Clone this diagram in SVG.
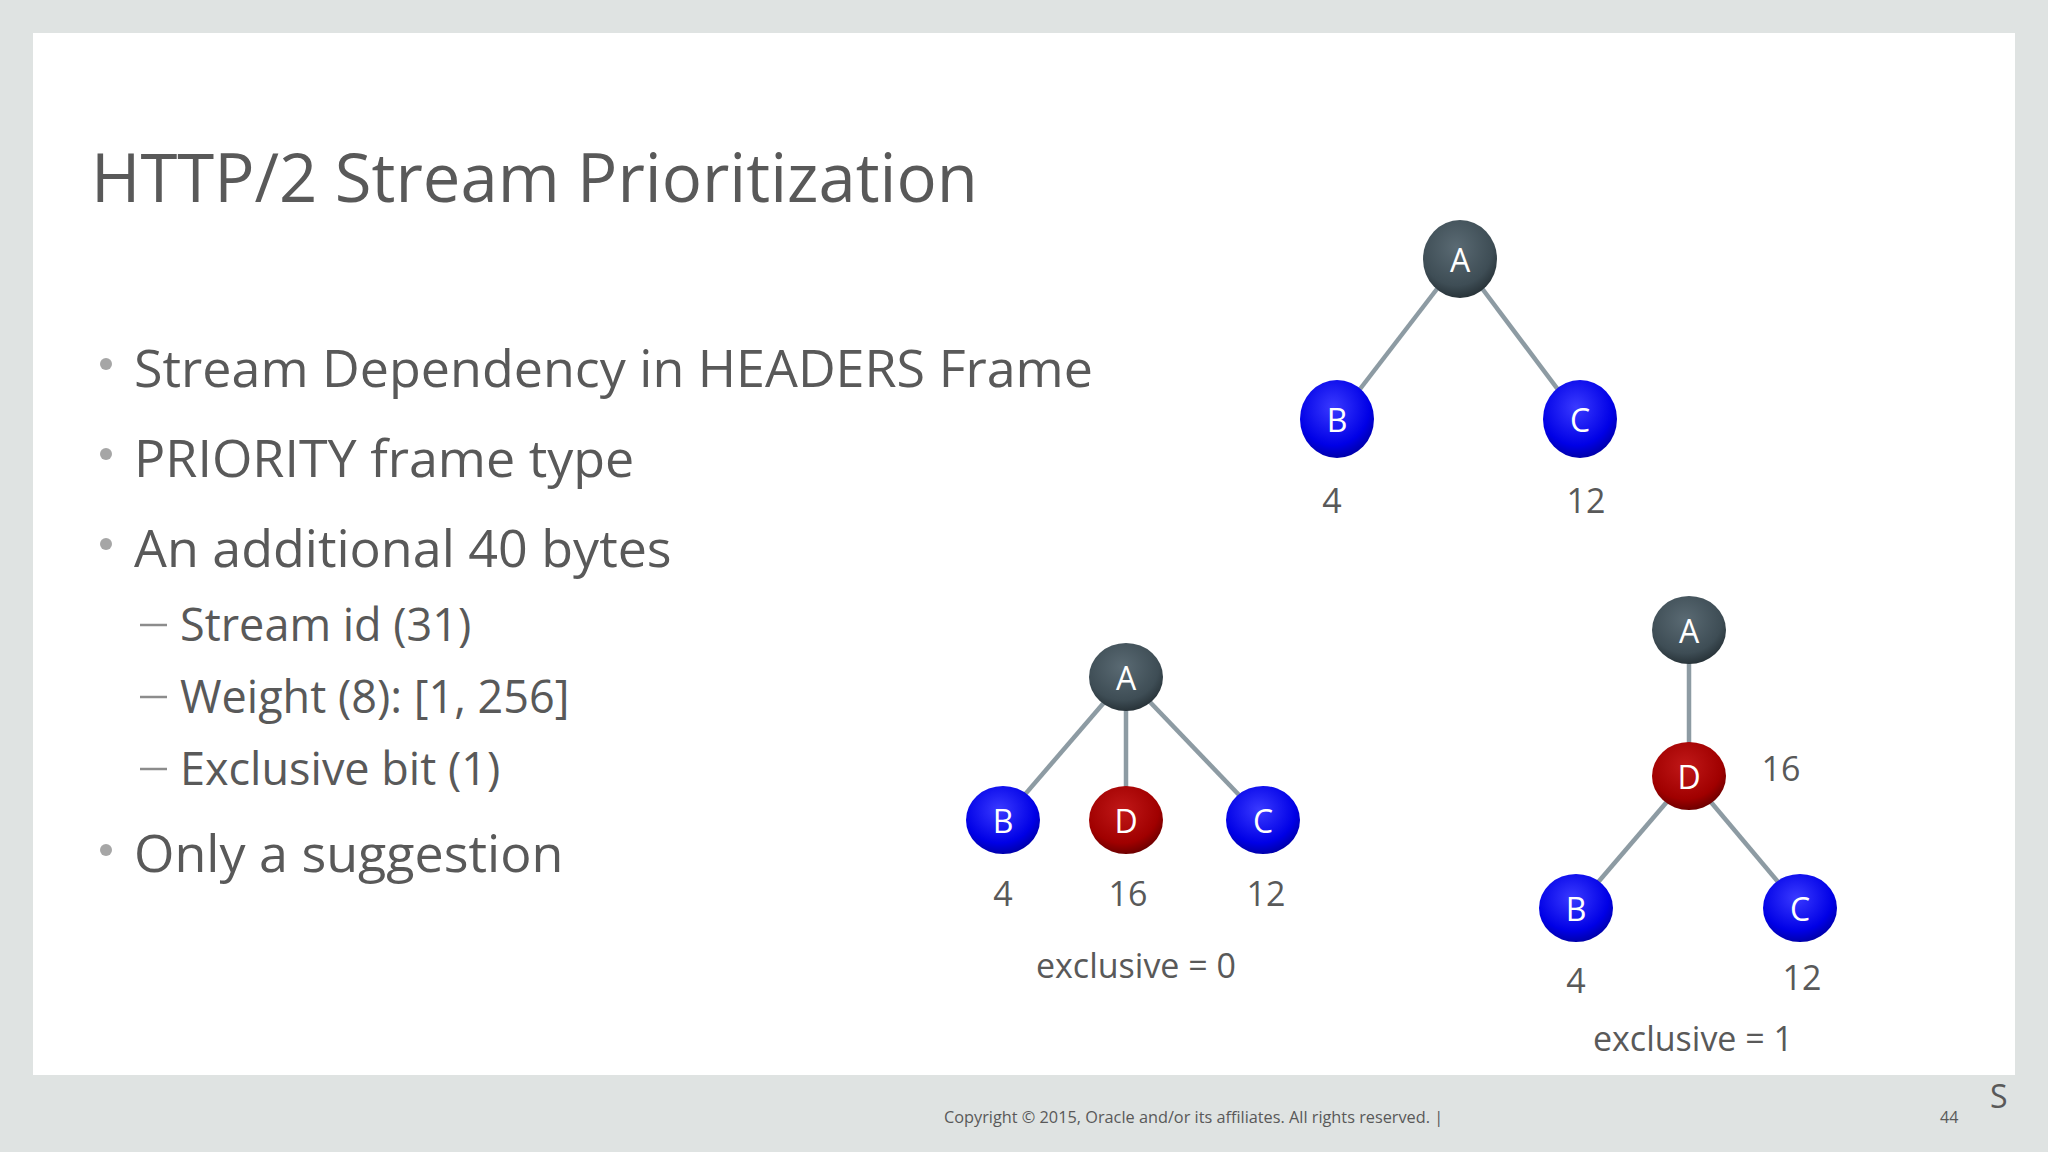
<svg xmlns="http://www.w3.org/2000/svg" width="2048" height="1152" viewBox="0 0 2048 1152">
<style>
text{font-family:"Open Sans","Noto Sans","Liberation Sans",sans-serif;fill:#595959}
.b{font-size:52px}.s{font-size:45px}.l{font-size:34px}
.n{font-size:32px;fill:#fff;text-anchor:middle;dominant-baseline:central}
.lbl{text-anchor:middle;dominant-baseline:central}
.e{stroke:#8d9ba3;stroke-width:4.5;fill:none}
</style>
<defs>
<radialGradient id="gb" cx="0.45" cy="0.35" r="0.7"><stop offset="0" stop-color="#3a3aff"/><stop offset="0.7" stop-color="#0000e6"/><stop offset="1" stop-color="#00009a"/></radialGradient>
<radialGradient id="gr" cx="0.45" cy="0.35" r="0.7"><stop offset="0" stop-color="#c01818"/><stop offset="0.7" stop-color="#a00000"/><stop offset="1" stop-color="#600000"/></radialGradient>
<radialGradient id="gd" cx="0.45" cy="0.35" r="0.7"><stop offset="0" stop-color="#5a6a73"/><stop offset="0.7" stop-color="#3e4d55"/><stop offset="1" stop-color="#222c31"/></radialGradient>
</defs>
<rect width="2048" height="1152" fill="#dfe3e2"/>
<rect x="33" y="33" width="1982" height="1042" fill="#fff"/>
<text x="91" y="202" style="font-size:67px">HTTP/2 Stream Prioritization</text>
<g fill="#a6a6a6"><circle cx="106" cy="364" r="6"/><circle cx="106" cy="454" r="6"/><circle cx="106" cy="544" r="6"/><circle cx="106" cy="850" r="6"/></g>
<text class="b" x="134" y="387">Stream Dependency in HEADERS Frame</text>
<text class="b" x="134" y="477">PRIORITY frame type</text>
<text class="b" x="134" y="567">An additional 40 bytes</text>
<g stroke="#8c8c8c" stroke-width="2.5"><line x1="140" y1="625" x2="167" y2="625"/><line x1="140" y1="697" x2="167" y2="697"/><line x1="140" y1="769" x2="167" y2="769"/></g>
<text class="s" x="180" y="641">Stream id (31)</text>
<text class="s" x="180" y="713">Weight (8): [1, 256]</text>
<text class="s" x="180" y="785">Exclusive bit (1)</text>
<text class="b" x="134" y="872">Only a suggestion</text>
<g id="connectors">
<line class="e" x1="1460" y1="259" x2="1337" y2="419"/><line class="e" x1="1460" y1="259" x2="1580" y2="419"/>
<line class="e" x1="1126" y1="677" x2="1003" y2="820"/><line class="e" x1="1126" y1="677" x2="1126" y2="820"/><line class="e" x1="1126" y1="677" x2="1263" y2="820"/>
<line class="e" x1="1689" y1="630" x2="1689" y2="776"/><line class="e" x1="1689" y1="776" x2="1576" y2="908"/><line class="e" x1="1689" y1="776" x2="1800" y2="908"/>
</g>
<g id="t1A"><ellipse cx="1460" cy="259" rx="37" ry="39" fill="url(#gd)"/><text class="n" x="1460" y="259">A</text></g>
<g id="t1B"><ellipse cx="1337" cy="419" rx="37" ry="39" fill="url(#gb)"/><text class="n" x="1337" y="419">B</text></g>
<g id="t1C"><ellipse cx="1580" cy="419" rx="37" ry="39" fill="url(#gb)"/><text class="n" x="1580" y="419">C</text></g>
<g id="t2A"><ellipse cx="1126" cy="677" rx="37" ry="34" fill="url(#gd)"/><text class="n" x="1126" y="677">A</text></g>
<g id="t2B"><ellipse cx="1003" cy="820" rx="37" ry="34" fill="url(#gb)"/><text class="n" x="1003" y="820">B</text></g>
<g id="t2D"><ellipse cx="1126" cy="820" rx="37" ry="34" fill="url(#gr)"/><text class="n" x="1126" y="820">D</text></g>
<g id="t2C"><ellipse cx="1263" cy="820" rx="37" ry="34" fill="url(#gb)"/><text class="n" x="1263" y="820">C</text></g>
<g id="t3A"><ellipse cx="1689" cy="630" rx="37" ry="34" fill="url(#gd)"/><text class="n" x="1689" y="630">A</text></g>
<g id="t3D"><ellipse cx="1689" cy="776" rx="37" ry="34" fill="url(#gr)"/><text class="n" x="1689" y="776">D</text></g>
<g id="t3B"><ellipse cx="1576" cy="908" rx="37" ry="34" fill="url(#gb)"/><text class="n" x="1576" y="908">B</text></g>
<g id="t3C"><ellipse cx="1800" cy="908" rx="37" ry="34" fill="url(#gb)"/><text class="n" x="1800" y="908">C</text></g>
<g class="l">
<text class="lbl" x="1332" y="500">4</text><text class="lbl" x="1586" y="500">12</text>
<text class="lbl" x="1003" y="893">4</text><text class="lbl" x="1128" y="893">16</text><text class="lbl" x="1266" y="893">12</text>
<text class="lbl" x="1136" y="965">exclusive = 0</text>
<text class="lbl" x="1781" y="768">16</text>
<text class="lbl" x="1576" y="980">4</text><text class="lbl" x="1802" y="977">12</text>
<text class="lbl" x="1693" y="1038">exclusive = 1</text>
</g>
<text x="944" y="1123" style="font-size:16.3px">Copyright © 2015, Oracle and/or its affiliates. All rights reserved.  |</text>
<text x="1940" y="1123" style="font-size:16px">44</text>
<text x="1990" y="1108" style="font-size:32px">S</text>
</svg>
